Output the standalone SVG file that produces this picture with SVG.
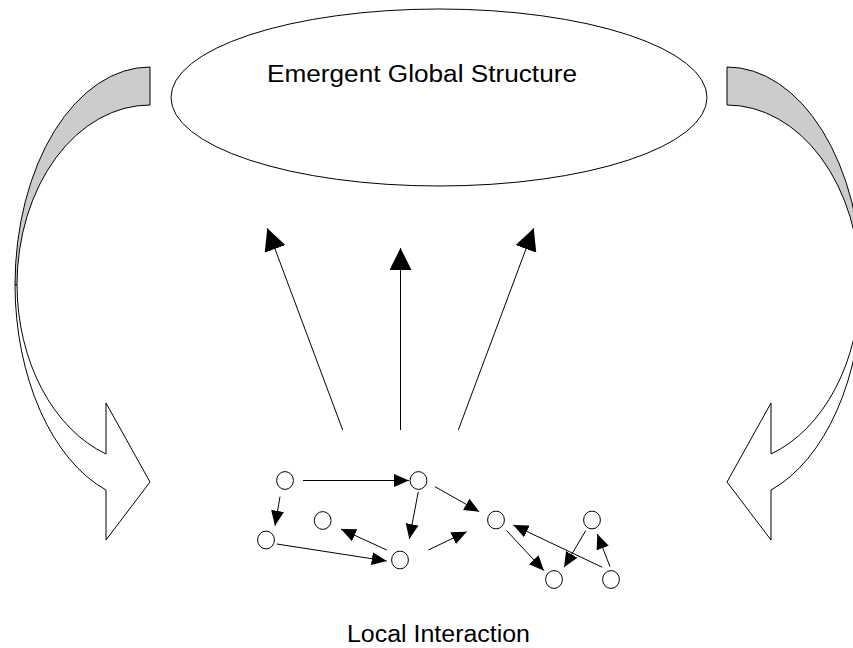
<svg xmlns="http://www.w3.org/2000/svg" width="853" height="648" viewBox="0 0 853 648">
  <style>
    .shape { stroke: #000; stroke-width: 1; stroke-linejoin: miter; }
    .back { fill: #cccccc; }
    .front { fill: #ffffff; }
    .node { fill: #ffffff; stroke: #000; stroke-width: 1; }
    .link { stroke: #000; stroke-width: 1; fill: none; }
    .big { marker-end: url(#headBig); }
    .small { marker-end: url(#headSmall); }
    .label { font-family: "Liberation Sans", Arial, sans-serif; font-size: 23.5px; fill: #000; }
  </style>
  <defs>
    <marker id="headBig" markerUnits="userSpaceOnUse" markerWidth="22" markerHeight="22" refX="22" refY="11" orient="auto">
      <path d="M0,0 L22,11 L0,22 Z" fill="#000"/>
    </marker>
    <marker id="headSmall" markerUnits="userSpaceOnUse" markerWidth="15" markerHeight="13" refX="15" refY="6.5" orient="auto">
      <path d="M0,0 L15,6.5 L0,13 Z" fill="#000"/>
    </marker>
    <!-- curved feedback arrow: shaded back band plus white front band with head -->
    <g id="curvedArrow">
      <path class="shape back" d="M150,67 A135,218 0 0 0 15,285 L17,285 A133,180 0 0 1 150,105 Z"/>
      <path class="shape front" d="M15,285 A135,218 0 0 0 106,490 L106,540 L150,482 L106,403 L106,454 A133,180 0 0 1 17,285 Z"/>
    </g>
  </defs>

  <rect width="853" height="648" fill="#ffffff"/>

  <!-- global structure -->
  <g id="global">
    <ellipse cx="439" cy="97.5" rx="268" ry="88.5" fill="#ffffff" stroke="#000" stroke-width="1"/>
    <text class="label" x="267" y="82" textLength="310" lengthAdjust="spacingAndGlyphs">Emergent Global Structure</text>
  </g>

  <!-- feedback arrows on both sides -->
  <g id="feedbackLeft">
    <use href="#curvedArrow"/>
  </g>
  <g id="feedbackRight" transform="translate(877,0) scale(-1,1)">
    <use href="#curvedArrow"/>
  </g>

  <!-- local agents -->
  <g id="nA"><ellipse class="node" cx="285" cy="480.5" rx="8.4" ry="8.9"/></g>
  <g id="nB"><ellipse class="node" cx="418.5" cy="480.5" rx="8.4" ry="8.9"/></g>
  <g id="nC"><ellipse class="node" cx="266" cy="540" rx="8.4" ry="8.9"/></g>
  <g id="nD"><ellipse class="node" cx="322.7" cy="520.5" rx="8.4" ry="8.9"/></g>
  <g id="nE"><ellipse class="node" cx="400" cy="560" rx="8.4" ry="8.9"/></g>
  <g id="nF"><ellipse class="node" cx="496" cy="520" rx="8.4" ry="8.9"/></g>
  <g id="nG"><ellipse class="node" cx="592" cy="520" rx="8.4" ry="8.9"/></g>
  <g id="nH"><ellipse class="node" cx="554" cy="579.5" rx="8.4" ry="8.9"/></g>
  <g id="nI"><ellipse class="node" cx="611" cy="579.5" rx="8.4" ry="8.9"/></g>

  <g id="localLabel">
    <text class="label" x="347" y="642" textLength="183" lengthAdjust="spacingAndGlyphs">Local Interaction</text>
  </g>

  <!-- connectors -->
  <g id="connectors">
    <!-- upward emergence -->
    <line class="link big" x1="342.7" y1="430" x2="267.3" y2="228.3"/>
    <line class="link big" x1="400.5" y1="430" x2="400.5" y2="248"/>
    <line class="link big" x1="458.3" y1="430" x2="533.7" y2="228.3"/>
    <!-- local interactions -->
    <line class="link small" x1="303" y1="480.5" x2="409" y2="480.5"/>
    <line class="link small" x1="280" y1="496.7" x2="275" y2="525.7"/>
    <line class="link small" x1="276.7" y1="544" x2="386.7" y2="561"/>
    <line class="link small" x1="386.7" y1="550" x2="341" y2="529"/>
    <line class="link small" x1="418.3" y1="491.7" x2="409.3" y2="539"/>
    <line class="link small" x1="435" y1="486.7" x2="479.3" y2="511.7"/>
    <line class="link small" x1="428.3" y1="550" x2="466.7" y2="531.7"/>
    <line class="link small" x1="506.7" y1="530.7" x2="544" y2="570.7"/>
    <line class="link small" x1="602.3" y1="567.3" x2="513.3" y2="525"/>
    <line class="link small" x1="585.7" y1="530.7" x2="564" y2="567.3"/>
    <line class="link small" x1="610" y1="566.7" x2="597.3" y2="534"/>
  </g>
</svg>
